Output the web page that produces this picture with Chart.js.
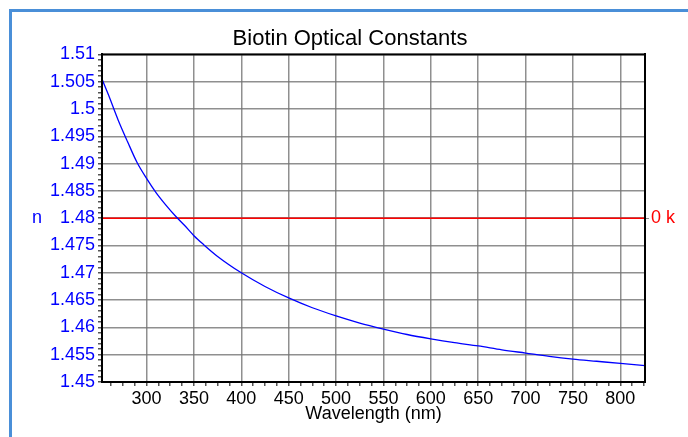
<!DOCTYPE html>
<html>
<head>
<meta charset="utf-8">
<script src="https://cdn.jsdelivr.net/npm/chart.js@4"></script>
<style>
  html, body { margin: 0; padding: 0; background: #fff; overflow: hidden; }
  #frame { position: absolute; left: 9px; top: 9px; width: 700px; height: 450px;
           border-left: 3px solid #4a8fd8; border-top: 3px solid #4a8fd8; }
  #wrap { position: absolute; left: 0; top: 0; width: 688px; height: 437px; }
</style>
</head>
<body>
<div id="frame"></div>
<div id="wrap"><canvas id="chart" width="688" height="437"></canvas></div>
<script>
// courbe n(λ)
const wavelengths = [253, 260, 270, 280, 290, 300, 310, 320, 330, 340, 350, 360, 375, 400, 425,
  450, 475, 500, 525, 550, 575, 600, 625, 650, 675, 700, 725, 750, 775, 800, 826];
const nValues = [1.5055, 1.5025, 1.4980, 1.4940, 1.4902, 1.4873, 1.4847, 1.4825, 1.4805, 1.4787,
  1.4768, 1.4752, 1.4730, 1.4700, 1.4675, 1.4654, 1.4636, 1.4621, 1.4608, 1.4597, 1.4587,
  1.4579, 1.4572, 1.4566, 1.4559, 1.4553, 1.4547, 1.4542, 1.4538, 1.4534, 1.4530];

// k = 0 partout
const kWavelengths = [253, 826];
const kValues = [0, 0];

const xTickLabels = [300, 350, 400, 450, 500, 550, 600, 650, 700, 750, 800];
const yTickLabels = ["1.45", "1.455", "1.46", "1.465", "1.47", "1.475", "1.48", "1.485", "1.49", "1.495", "1.5", "1.505", "1.51"];

const FONT = "'Liberation Sans', Arial, sans-serif";
const GRID = "rgba(115,115,115,0.8)";

// ticks mineurs (x : 12.5 nm, y : 0.001)
const xTicks = [];
for (let v = 262.5; v <= 826; v += 12.5) xTicks.push({ value: v });
const yTicks = [];
for (let i = 0; i <= 60; i++) yTicks.push({ value: +(1.45 + i * 0.001).toFixed(3) });

const isMajorX = v => xTickLabels.includes(v);
const isMajorY = v => yTickLabels.includes(String(+v.toFixed(3)));

const extras = {
  id: "extras",
  afterDraw(chart) {
    const { ctx, chartArea: a, scales } = chart;
    ctx.save();
    ctx.strokeStyle = "#000";
    ctx.lineWidth = 2;
    ctx.strokeRect(a.left, a.top, a.right - a.left, a.bottom - a.top);
    ctx.fillStyle = "#0000ff";
    ctx.font = "18px " + FONT;
    ctx.textAlign = "center";
    ctx.textBaseline = "middle";
    ctx.fillText("n", 37, scales.y.getPixelForValue(1.48));
    ctx.restore();
  }
};

new Chart(document.getElementById("chart"), {
  type: "line",
  data: {
    datasets: [{
      data: wavelengths.map((w, i) => ({ x: w, y: nValues[i] })),
      borderColor: "#0000ff",
      borderWidth: 1.3,
      pointRadius: 0,
      cubicInterpolationMode: "monotone",
      yAxisID: "y"
    }, {
      data: kWavelengths.map((w, i) => ({ x: w, y: kValues[i] })),
      borderColor: "#ff0000",
      borderWidth: 1.5,
      pointRadius: 0,
      yAxisID: "y2"
    }]
  },
  options: {
    responsive: false,
    animation: false,
    layout: { padding: { left: 12, top: 12, right: 0, bottom: 0 } },
    plugins: {
      legend: { display: false },
      tooltip: { enabled: false },
      title: {
        display: true,
        text: "Biotin Optical Constants",
        color: "#000",
        font: { family: FONT, size: 22, weight: "normal" },
        padding: { top: 14, bottom: 2 }
      }
    },
    scales: {
      x: {
        type: "linear",
        min: 253,
        max: 826,
        afterBuildTicks: s => { s.ticks = xTicks; },
        afterFit: s => { s.height = 55; },
        border: { color: "#000", width: 2 },
        grid: {
          color: c => (c.tick && isMajorX(c.tick.value) ? GRID : "transparent"),
          lineWidth: 1.5,
          tickColor: "#555",
          tickLength: 4
        },
        ticks: {
          autoSkip: false,
          maxRotation: 0,
          padding: 2,
          color: "#000",
          font: { family: FONT, size: 18 },
          callback: v => (isMajorX(v) ? String(v) : "")
        },
        title: {
          display: true,
          text: "Wavelength (nm)",
          color: "#000",
          font: { family: FONT, size: 18 },
          padding: { top: 0, bottom: 12 }
        }
      },
      y: {
        position: "left",
        min: 1.45,
        max: 1.51,
        afterBuildTicks: s => { s.ticks = yTicks; },
        afterFit: s => { s.width = 90; },
        border: { color: "#000", width: 2 },
        grid: {
          color: c => (c.tick && isMajorY(c.tick.value) ? GRID : "transparent"),
          lineWidth: 1.5,
          tickColor: "#555",
          tickLength: 4
        },
        ticks: {
          autoSkip: false,
          padding: 3,
          color: "#0000ff",
          font: { family: FONT, size: 18 },
          callback: v => (isMajorY(v) ? String(+v.toFixed(3)) : "")
        }
      },
      y2: {
        position: "right",
        min: -1,
        max: 1,
        afterBuildTicks: s => { s.ticks = [{ value: 0 }]; },
        afterFit: s => { s.width = 43; },
        border: { color: "#000", width: 2 },
        grid: { drawOnChartArea: false, tickColor: "#888", tickLength: 4 },
        ticks: {
          padding: 2,
          color: "#ff0000",
          font: { family: FONT, size: 18 },
          callback: () => "0 k"
        }
      }
    }
  },
  plugins: [extras]
});
</script>
</body>
</html>
